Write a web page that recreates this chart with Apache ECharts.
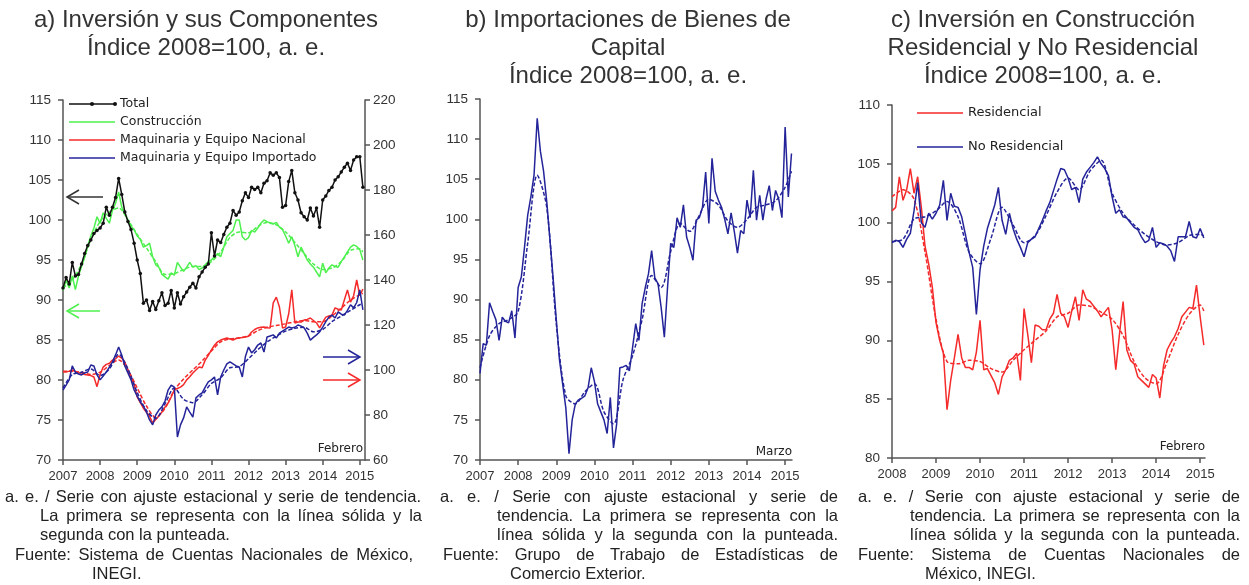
<!DOCTYPE html>
<html>
<head>
<meta charset="utf-8">
<script src="https://cdn.jsdelivr.net/npm/echarts@6.0.0/dist/echarts.min.js"></script>
<style>
  html, body { margin: 0; padding: 0; background: #fff; }
  #wrap { position: relative; width: 1249px; height: 585px; overflow: hidden; }
  #chart { position: absolute; left: 0; top: 0; width: 1249px; height: 585px; }
  .fn { position: absolute; font-family: Arial, "Liberation Sans", sans-serif; font-size: 16.5px; color: #222; white-space: nowrap; line-height: 19px; }
  .j { text-align: justify; text-align-last: justify; }
</style>
</head>
<body>
<div id="wrap">
  <div id="chart"></div>
  <!-- notas panel a -->
  <div class="fn j" style="left:5px;top:487px;width:416px">a. e. / Serie con ajuste estacional y serie de tendencia.</div>
  <div class="fn j" style="left:40px;top:506px;width:382px">La primera se representa con la línea sólida y la</div>
  <div class="fn" style="left:40px;top:525px">segunda con la punteada.</div>
  <div class="fn j" style="left:15px;top:545px;width:398px">Fuente: Sistema de Cuentas Nacionales de México,</div>
  <div class="fn" style="left:92px;top:564px">INEGI.</div>
  <!-- notas panel b -->
  <div class="fn j" style="left:440px;top:487px;width:398px">a. e. / Serie con ajuste estacional y serie de</div>
  <div class="fn j" style="left:497px;top:506px;width:341px">tendencia. La primera se representa con la</div>
  <div class="fn j" style="left:497px;top:525px;width:341px">línea sólida y la segunda con la punteada.</div>
  <div class="fn j" style="left:443px;top:545px;width:395px">Fuente: Grupo de Trabajo de Estadísticas de</div>
  <div class="fn" style="left:510px;top:564px">Comercio Exterior.</div>
  <!-- notas panel c -->
  <div class="fn j" style="left:858px;top:487px;width:382px">a. e. / Serie con ajuste estacional y serie de</div>
  <div class="fn j" style="left:910px;top:506px;width:330px">tendencia. La primera se representa con la</div>
  <div class="fn j" style="left:910px;top:525px;width:330px">línea sólida y la segunda con la punteada.</div>
  <div class="fn j" style="left:858px;top:545px;width:382px">Fuente: Sistema de Cuentas Nacionales de</div>
  <div class="fn" style="left:925px;top:564px">México, INEGI.</div>
</div>
<script>
// ---- datos (mensuales) ----
// a) Inversión y sus componentes, ene-2007 a feb-2015
const yearsA = [2007, 2008, 2009, 2010, 2011, 2012, 2013, 2014, 2015];
const totalA = [91.5, 92.8, 92.0, 94.7, 93.0, 93.2, 94.5, 95.8, 96.8, 97.5, 98.3, 98.7,
  99.0, 99.6, 101.6, 100.6, 101.6, 102.8, 105.2, 103.2, 101.0, 99.8, 98.8, 97.1,
  95.0, 93.3, 89.6, 90.0, 88.7, 89.8, 88.8, 89.9, 90.9, 89.3, 89.6, 91.2,
  89.0, 90.9, 89.5, 90.4, 91.0, 91.6, 92.1, 91.5, 92.9, 93.5, 94.1, 94.5,
  98.4, 95.5, 97.5, 97.2, 98.2, 99.1, 99.6, 101.2, 100.6, 101.0, 102.4, 103.4,
  102.8, 104.1, 103.8, 104.1, 103.4, 104.6, 104.9, 105.9, 105.6, 105.9, 105.3, 101.6,
  101.8, 104.8, 106.2, 103.4, 102.5, 100.9, 100.4, 100.0, 101.5, 100.5, 101.5, 99.1,
  102.5, 103.0, 103.7, 104.1, 105.0, 105.4, 106.0, 106.6, 107.1, 106.2, 107.5, 107.9,
  107.9, 104.1];
const construccion = [91.2, 92.5, 91.5, 93.0, 91.3, 93.0, 94.2, 95.3, 96.8, 98.0, 99.0, 100.4,
  99.6, 100.9, 100.2, 99.6, 101.2, 102.1, 103.5, 101.6, 100.8, 100.0, 99.2, 98.8,
  98.0, 97.6, 96.6, 96.8, 97.1, 95.4, 94.4, 94.1, 93.2, 92.9, 92.6, 93.4,
  93.1, 94.7, 94.1, 93.6, 94.1, 94.7, 94.1, 94.3, 93.8, 94.0, 94.4, 94.8,
  95.0, 95.4, 95.8, 95.4, 96.6, 97.9, 98.3, 98.7, 100.0, 100.0, 97.9, 97.5,
  97.8, 98.7, 98.5, 99.0, 99.6, 100.0, 99.8, 99.6, 99.5, 99.7, 99.1, 98.8,
  98.0, 97.1, 97.9, 96.8, 95.4, 96.6, 95.8, 95.0, 94.5, 94.1, 93.5, 92.9,
  94.6, 93.4, 94.0, 94.4, 94.2, 94.1, 94.8, 95.4, 96.0, 96.6, 96.9, 96.7,
  96.3, 95.0];
const construccionTend = [91.5, 92.5, 94.5, 97.5, 99.8, 101.0, 101.5, 100.0, 98.2, 96.5, 94.8, 93.2,
  93.3, 93.8, 94.2, 94.2, 94.8, 96.0, 97.8, 98.5, 98.4, 99.2, 99.7, 99.4,
  98.5, 97.2, 95.8, 94.5, 93.8, 94.0, 94.8, 96.2, 96.4, 96.0];
// eje derecho
const nacional = [99.1, 99.1, 99.5, 100.0, 99.3, 98.7, 98.8, 98.0, 97.8, 97.5, 96.9, 92.6,
  98.0, 101.3, 102.5, 103.0, 104.4, 105.0, 106.2, 105.3, 103.5, 100.0, 96.5, 93.5,
  88.0, 85.5, 83.0, 81.2, 79.5, 76.4, 78.0, 79.6, 81.3, 83.5, 85.3, 88.0,
  91.1, 91.8, 92.4, 93.5, 95.6, 97.0, 98.7, 100.0, 101.3, 101.0, 104.4, 106.5,
  108.9, 111.0, 112.5, 113.3, 113.8, 114.2, 113.8, 113.3, 114.0, 114.2, 114.4, 114.7,
  115.0, 116.9, 118.0, 118.7, 119.0, 119.1, 118.8, 118.7, 129.8, 132.4, 128.0, 118.7,
  119.1, 125.0, 135.6, 120.9, 121.3, 121.3, 122.2, 122.5, 123.1, 122.0, 120.9, 118.7,
  121.3, 123.5, 124.0, 124.4, 127.6, 127.0, 126.7, 131.1, 135.6, 130.2, 133.0, 140.0,
  133.0, 136.0];
const nacionalTend = [99.5, 99.4, 99.0, 98.0, 99.0, 102.0, 104.5, 100.0, 92.0, 84.0, 79.0, 83.0,
  91.0, 96.0, 100.0, 104.0, 108.5, 112.5, 113.8, 114.3, 115.2, 117.5, 119.0, 119.8,
  120.5, 121.5, 122.0, 121.5, 121.5, 124.0, 127.5, 131.0, 133.5, 134.0];
const importado = [91.1, 93.3, 95.6, 101.8, 99.1, 98.2, 97.8, 98.7, 99.1, 102.2, 101.8, 97.8,
  95.6, 97.3, 99.1, 101.3, 103.6, 106.7, 110.2, 106.7, 101.8, 98.7, 95.6, 91.1,
  88.4, 85.8, 84.0, 81.3, 77.8, 75.6, 80.0, 82.2, 83.6, 86.2, 91.1, 93.3,
  92.4, 70.2, 75.6, 78.7, 83.6, 81.3, 79.1, 87.6, 88.9, 89.8, 92.4, 94.7,
  95.6, 96.9, 88.9, 96.9, 100.0, 102.7, 103.6, 102.7, 101.8, 101.3, 96.9, 106.0,
  110.2, 107.6, 109.0, 111.1, 112.0, 108.0, 114.7, 115.1, 115.6, 114.2, 116.4, 117.3,
  118.2, 119.1, 118.7, 119.0, 120.0, 119.5, 118.7, 116.4, 113.3, 114.5, 115.6, 116.9,
  119.1, 121.5, 123.5, 124.4, 123.1, 125.8, 124.8, 124.4, 126.5, 129.0, 127.6, 130.0,
  135.6, 126.7];
const importadoTend = [92.0, 98.0, 99.0, 100.5, 97.5, 100.5, 107.0, 100.5, 90.0, 82.0, 78.5, 85.0,
  92.0, 87.0, 85.5, 89.0, 94.0, 96.5, 101.0, 101.5, 105.0, 109.0, 112.5, 115.0,
  117.3, 118.5, 119.0, 117.0, 118.0, 121.5, 124.0, 126.5, 129.0, 129.5];

// b) Importaciones de bienes de capital, ene-2007 a mar-2015
const yearsB = [2007, 2008, 2009, 2010, 2011, 2012, 2013, 2014, 2015];
const importBK = [80.8, 84.5, 84.3, 89.6, 88.5, 87.5, 84.9, 87.8, 87.3, 87.1, 88.6, 85.2,
  91.5, 92.8, 96.5, 100.5, 102.8, 105.5, 112.6, 108.5, 106.0, 102.2, 97.5, 92.7,
  87.5, 82.5, 79.5, 76.5, 70.8, 75.0, 77.0, 77.5, 77.7, 78.0, 79.0, 81.5,
  79.8, 77.0, 76.0, 75.0, 73.3, 77.8, 71.5, 74.5, 81.5, 81.6, 81.8, 81.1,
  84.0, 87.0, 84.9, 89.5, 91.5, 93.2, 96.1, 92.7, 92.0, 89.0, 85.3, 91.5,
  97.0, 96.5, 100.2, 99.0, 101.8, 97.8, 96.5, 94.9, 99.9, 100.2, 101.5, 105.9,
  99.5, 107.6, 103.5, 102.4, 101.5, 100.0, 98.2, 100.8, 98.5, 95.8, 98.6, 98.2,
  102.4, 100.2, 106.1, 99.9, 103.0, 99.9, 102.5, 104.2, 101.1, 103.6, 102.5, 100.2,
  111.5, 102.8, 108.2];
const importBKTend = [81.5, 85.5, 87.0, 87.5, 88.5, 97.0, 105.5, 101.5, 87.0, 78.0, 77.0, 78.5,
  79.5, 76.0, 74.5, 80.0, 83.0, 87.5, 93.0, 91.5, 96.0, 99.5, 98.5, 100.5,
  102.5, 101.8, 99.8, 99.0, 100.0, 101.5, 101.8, 102.3, 104.0, 106.0];

// c) Construcción residencial y no residencial, ene-2008 a feb-2015
const yearsC = [2008, 2009, 2010, 2011, 2012, 2013, 2014, 2015];
const residencial = [101.0, 101.3, 103.9, 101.9, 102.8, 104.6, 102.5, 103.9, 101.3, 98.0, 96.5, 94.5,
  91.5, 90.0, 88.9, 84.1, 86.6, 88.5, 90.5, 88.5, 87.7, 87.7, 87.5, 89.0,
  91.7, 87.5, 87.6, 87.0, 86.4, 85.4, 86.9, 87.5, 88.3, 88.5, 88.9, 86.6,
  92.7, 90.5, 88.1, 91.3, 91.2, 90.9, 90.9, 91.8, 92.3, 93.9, 92.3, 92.0,
  91.1, 92.5, 93.7, 91.7, 94.3, 93.5, 93.3, 92.9, 92.5, 92.0, 92.4, 92.8,
  90.9, 87.5, 90.5, 93.3, 89.2, 88.3, 88.0, 86.9, 86.6, 86.3, 86.0, 87.1,
  86.8, 85.1, 87.8, 89.2, 89.8, 90.3, 91.0, 92.0, 92.4, 92.8, 92.7, 94.7,
  92.0, 89.6];
const residencialTend = [102.2, 102.8, 102.0, 97.5, 91.8, 88.2, 88.0, 88.3, 88.2, 87.6, 87.3, 88.3,
  89.2, 90.0, 90.8, 92.0, 92.3, 93.0, 92.9, 92.4, 91.8, 90.4, 88.2, 86.8,
  86.3, 88.2, 90.5, 92.2, 93.0, 92.5];
const noResidencial = [98.3, 98.5, 98.4, 97.9, 98.6, 99.1, 101.0, 103.4, 100.0, 99.6, 100.8, 100.3,
  100.8, 101.5, 103.6, 100.2, 102.5, 101.4, 101.3, 100.5, 99.0, 97.5, 96.2, 92.2,
  96.0, 98.0, 99.5, 100.5, 101.5, 103.0, 100.2, 99.0, 100.8, 99.5, 98.6, 97.9,
  97.1, 98.3, 98.6, 98.8, 99.5, 100.2, 101.0, 101.7, 102.7, 103.7, 104.6, 104.5,
  103.8, 102.8, 103.0, 101.7, 103.7, 104.3, 104.7, 105.1, 105.6, 105.0, 104.6, 104.0,
  102.2, 100.8, 101.1, 100.5, 100.4, 100.0, 99.6, 99.4, 98.8, 98.3, 98.5, 99.6,
  97.9, 98.3, 98.2, 98.0, 97.6, 96.7, 98.8, 98.8, 98.8, 100.1, 98.8, 98.7,
  99.5, 98.7];
const noResidencialTend = [98.4, 98.6, 100.3, 100.5, 101.0, 101.8, 100.5, 97.5, 96.5, 98.7, 101.3, 99.8,
  98.3, 98.9, 100.6, 102.6, 103.8, 102.8, 104.4, 105.3, 102.5, 100.8, 99.8, 99.0,
  98.4, 98.1, 98.3, 98.9, 99.0, 98.9];

// ---- ayudas ----
const monthly = (start, arr) => arr.map((v, i) => [start + i / 12, v]);
const quarterly = (start, arr, last) => arr.map((v, i) => [Math.min(start + i / 4, last), v]);

const FONT = 'Arial, "Liberation Sans", sans-serif';
const WIDE = '"DejaVu Sans", Verdana, sans-serif';
const AXIS_COLOR = '#555';
const RED = '#f52a2a';
const BLUE = '#24249a';
const GREEN = '#4ef04e';

function xAxisFor(gi, min, max, years) {
  return {
    type: 'value', gridIndex: gi, min: min, max: max,
    axisLine: { lineStyle: { color: AXIS_COLOR, width: 1.5 } },
    axisTick: { show: true, length: 5, customValues: years, lineStyle: { color: AXIS_COLOR, width: 1.5 } },
    axisLabel: { customValues: years, color: '#333', fontSize: 13, fontFamily: FONT, margin: 10,
      formatter: v => String(Math.round(v)) },
    splitLine: { show: false }
  };
}
function yAxisFor(gi, min, max, interval, pos) {
  return {
    type: 'value', gridIndex: gi, min: min, max: max, interval: interval, position: pos || 'left',
    axisLine: { show: true, onZero: false, lineStyle: { color: AXIS_COLOR, width: 1.5 } },
    axisTick: { show: true, length: 5, lineStyle: { color: AXIS_COLOR, width: 1.5 } },
    axisLabel: { color: '#333', fontSize: 13.5, fontFamily: FONT, margin: pos === 'right' ? 8 : 12 },
    splitLine: { show: false }
  };
}
function line(name, data, color, xi, yi, dashed) {
  return {
    name: name, type: 'line', xAxisIndex: xi, yAxisIndex: yi, data: data,
    symbol: 'none', smooth: dashed ? 0.3 : false, silent: true,
    lineStyle: { color: color, width: 1.5, type: dashed ? [4, 2] : 'solid' },
    itemStyle: { color: color }
  };
}

function arrow(x1, x2, y, color, toRight) {
  const tip = toRight ? x2 : x1;
  const back = toRight ? tip - 12 : tip + 12;
  return {
    type: 'group', silent: true, children: [
      { type: 'line', shape: { x1: x1, y1: y, x2: x2, y2: y }, style: { stroke: color, lineWidth: 1.5 } },
      { type: 'polyline', shape: { points: [[back, y - 7], [tip, y], [back, y + 7]] }, style: { stroke: color, lineWidth: 1.5, fill: null } }
    ]
  };
}

// leyenda dibujada a mano: linea de muestra + texto
function legendItem(x, y, len, label, color, size, dots) {
  const kids = [
    { type: 'line', shape: { x1: x, y1: y, x2: x + len, y2: y }, style: { stroke: color, lineWidth: 1.5 } },
    { type: 'text', x: x + len + 5, y: y, style: { text: label, font: size + 'px ' + WIDE, fill: '#222', verticalAlign: 'middle' } }
  ];
  if (dots) {
    kids.push({ type: 'circle', shape: { cx: x + len / 2, cy: y, r: 2 }, style: { fill: color } });
    kids.push({ type: 'circle', shape: { cx: x + len, cy: y, r: 2 }, style: { fill: color } });
  }
  return { type: 'group', silent: true, children: kids };
}

const chart = echarts.init(document.getElementById('chart'), null, { renderer: 'canvas' });

const titleStyle = { font: '24px ' + FONT, fill: '#333', textAlign: 'center', lineHeight: 28 };

chart.setOption({
  animation: false,
  backgroundColor: '#fff',
  grid: [
    { left: 63, top: 100, width: 302, height: 360 },
    { left: 480, top: 99, width: 312, height: 361 },
    { left: 892, top: 105, width: 313, height: 353 }
  ],
  xAxis: [
    xAxisFor(0, 2007, 2015.14, yearsA),
    xAxisFor(1, 2007, 2015.18, yearsB),
    xAxisFor(2, 2008, 2015.11, yearsC)
  ],
  yAxis: [
    yAxisFor(0, 70, 115, 5, 'left'),
    yAxisFor(0, 60, 220, 20, 'right'),
    yAxisFor(1, 70, 115, 5, 'left'),
    yAxisFor(2, 80, 110, 5, 'left')
  ],
  graphic: [
    { type: 'text', x: 206, y: 6, silent: true, style: Object.assign({ text: 'a) Inversión y sus Componentes\nÍndice 2008=100, a. e.' }, titleStyle) },
    { type: 'text', x: 628, y: 6, silent: true, style: Object.assign({ text: 'b) Importaciones de Bienes de\nCapital\nÍndice 2008=100, a. e.' }, titleStyle) },
    { type: 'text', x: 1043, y: 6, silent: true, style: Object.assign({ text: 'c) Inversión en Construcción\nResidencial y No Residencial\nÍndice 2008=100, a. e.' }, titleStyle) },
    { type: 'text', x: 363, y: 443, silent: true, style: { text: 'Febrero', font: '12px ' + WIDE, fill: '#222', textAlign: 'right' } },
    { type: 'text', x: 792, y: 446, silent: true, style: { text: 'Marzo', font: '12px ' + WIDE, fill: '#222', textAlign: 'right' } },
    { type: 'text', x: 1205, y: 441, silent: true, style: { text: 'Febrero', font: '12px ' + WIDE, fill: '#222', textAlign: 'right' } },
    legendItem(69, 104, 46, 'Total', '#111', 12.5, true),
    legendItem(69, 122, 46, 'Construcción', GREEN, 12.5),
    legendItem(69, 140, 46, 'Maquinaria y Equipo Nacional', RED, 12.5),
    legendItem(69, 158, 46, 'Maquinaria y Equipo Importado', BLUE, 12.5),
    legendItem(917, 113, 46, 'Residencial', RED, 13),
    legendItem(917, 147, 46, 'No Residencial', BLUE, 13),
    arrow(67, 103, 197, '#333', false),
    arrow(67, 100, 311, GREEN, false),
    arrow(323, 360, 357, BLUE, true),
    arrow(323, 360, 380, RED, true)
  ],
  series: [
    line('Construcción tendencia', quarterly(2007, construccionTend, 2015 + 1 / 12), GREEN, 0, 0, true),
    line('Construcción', monthly(2007, construccion), GREEN, 0, 0),
    line('Nacional tendencia', quarterly(2007, nacionalTend, 2015 + 1 / 12), RED, 0, 1, true),
    line('Maquinaria y Equipo Nacional', monthly(2007, nacional), RED, 0, 1),
    line('Importado tendencia', quarterly(2007, importadoTend, 2015 + 1 / 12), BLUE, 0, 1, true),
    line('Maquinaria y Equipo Importado', monthly(2007, importado), BLUE, 0, 1),
    {
      name: 'Total', type: 'line', xAxisIndex: 0, yAxisIndex: 0, data: monthly(2007, totalA),
      symbol: 'circle', symbolSize: 3.5, showSymbol: true, silent: true,
      lineStyle: { color: '#111', width: 1.5 }, itemStyle: { color: '#111' }
    },
    line('Importaciones tendencia', quarterly(2007, importBKTend, 2015 + 2 / 12), BLUE, 1, 2, true),
    line('Importaciones', monthly(2007, importBK), BLUE, 1, 2),
    line('Residencial tendencia', quarterly(2008, residencialTend, 2015 + 1 / 12), RED, 2, 3, true),
    line('Residencial', monthly(2008, residencial), RED, 2, 3),
    line('No Residencial tendencia', quarterly(2008, noResidencialTend, 2015 + 1 / 12), BLUE, 2, 3, true),
    line('No Residencial', monthly(2008, noResidencial), BLUE, 2, 3)
  ]
});
</script>
</body>
</html>
